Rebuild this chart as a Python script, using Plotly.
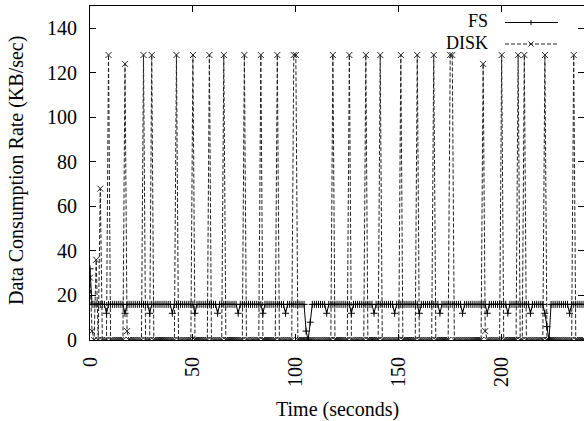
import plotly.graph_objects as go

# Time axis (seconds), one sample per second
TIME = list(range(0, 241))

# FS data consumption rate (KB/sec)
FS = [
    32, 16, 16, 16, 16, 16, 16, 16, 12, 16, 16, 16, 16, 16, 16, 16, 16, 12, 16, 16,
    16, 16, 16, 16, 16, 16, 16, 16, 16, 12, 16, 16, 16, 16, 16, 16, 16, 16, 16, 16,
    12, 16, 16, 16, 16, 16, 16, 16, 16, 16, 16, 12, 16, 16, 16, 16, 16, 16, 16, 16,
    16, 16, 12, 16, 16, 16, 16, 16, 16, 16, 16, 16, 12, 16, 16, 16, 16, 16, 16, 16,
    16, 16, 16, 16, 12, 16, 16, 16, 16, 16, 16, 16, 16, 16, 16, 12, 16, 16, 16, 16,
    16, 16, 16, 16, 16, 4, 0, 8, 16, 16, 16, 16, 16, 16, 16, 12, 16, 16, 16, 16,
    16, 16, 16, 16, 16, 16, 16, 12, 16, 16, 16, 16, 16, 16, 16, 16, 16, 16, 12, 16,
    16, 16, 16, 16, 16, 16, 16, 16, 12, 16, 16, 16, 16, 16, 16, 16, 16, 16, 16, 16,
    12, 16, 16, 16, 16, 16, 16, 16, 16, 16, 12, 16, 16, 16, 16, 16, 16, 16, 16, 16,
    16, 12, 16, 16, 16, 16, 16, 16, 16, 16, 16, 16, 16, 12, 16, 16, 16, 16, 16, 16,
    16, 16, 16, 12, 16, 16, 16, 16, 16, 16, 16, 16, 16, 16, 12, 16, 16, 16, 16, 16,
    16, 12, 6, 0, 16, 16, 16, 16, 16, 16, 16, 16, 16, 12, 16, 16, 16, 16, 16, 16,
    16,
]

# DISK data consumption rate (KB/sec)
DISK = [
    28, 4, 0, 36, 0, 68, 0, 0, 0, 128, 0, 0, 0, 0, 0, 0, 0, 124, 4, 0,
    0, 0, 0, 0, 0, 0, 128, 0, 0, 0, 128, 0, 0, 0, 0, 0, 0, 0, 0, 0,
    0, 0, 128, 0, 0, 0, 0, 0, 0, 0, 128, 0, 0, 0, 0, 0, 0, 0, 128, 0,
    0, 0, 0, 0, 0, 128, 0, 0, 0, 0, 0, 0, 0, 0, 0, 128, 0, 0, 0, 0,
    0, 0, 0, 128, 0, 0, 0, 0, 0, 0, 0, 128, 0, 0, 0, 0, 0, 0, 0, 128,
    128, 0, 0, 0, 0, 0, 0, 0, 0, 0, 0, 0, 0, 0, 0, 0, 0, 0, 128, 0,
    0, 0, 0, 0, 0, 0, 128, 0, 0, 0, 0, 0, 0, 0, 128, 0, 0, 0, 0, 0,
    0, 128, 0, 0, 0, 0, 0, 0, 0, 0, 0, 128, 0, 0, 0, 0, 0, 0, 0, 128,
    0, 0, 0, 0, 0, 0, 0, 128, 0, 0, 0, 0, 0, 0, 0, 128, 128, 0, 0, 0,
    0, 0, 0, 0, 0, 0, 0, 0, 0, 0, 0, 124, 4, 0, 0, 0, 0, 0, 0, 0,
    128, 0, 0, 0, 0, 0, 0, 0, 128, 0, 0, 128, 0, 0, 0, 0, 0, 0, 0, 0,
    0, 128, 0, 0, 0, 0, 0, 0, 0, 0, 0, 0, 0, 0, 0, 128, 0, 0, 0, 0,
    0,
]

SERIES_NAMES = ["FS", "DISK"]
X_TICKS = [0, 50, 100, 150, 200]
Y_TICKS = [0, 20, 40, 60, 80, 100, 120, 140]
X_TITLE = "Time (seconds)"
Y_TITLE = "Data Consumption Rate (KB/sec)"

FONT = "Liberation Serif, Times New Roman, serif"
W, H = 584, 421
ML, MR, MT, MB = 90, 0, 6, 81
PW, PH = W - ML - MR, H - MT - MB


def px_x(px):
    return (px - ML) / PW


def px_y(py):
    return (H - MB - py) / PH


fig = go.Figure()

fig.add_trace(go.Scatter(
    x=TIME, y=DISK, name=SERIES_NAMES[1], mode="lines+markers",
    line=dict(color="#222222", width=1, dash="4px,2px"),
    marker=dict(symbol="x-thin-open", size=6, line=dict(color="#222222", width=1)),
    showlegend=False,
))
fig.add_trace(go.Scatter(
    x=TIME, y=FS, name=SERIES_NAMES[0], mode="lines+markers",
    line=dict(color="black", width=1),
    marker=dict(symbol="cross-thin-open", size=5, line=dict(color="black", width=1)),
    showlegend=False,
))

axis_common = dict(
    showgrid=False, zeroline=False, showline=True, linecolor="black", linewidth=1,
    ticks="inside", ticklen=6, tickcolor="black", tickwidth=1, mirror="ticks",
    tickfont=dict(family=FONT, size=20, color="black"),
)

fig.update_xaxes(range=[0, 240], tickvals=X_TICKS, ticktext=[str(v) for v in X_TICKS],
                 tickangle=-90, ticklabelstandoff=8, **axis_common)
fig.update_yaxes(range=[0, 150], tickvals=Y_TICKS, ticktext=[str(v) for v in Y_TICKS],
                 ticklabelstandoff=8, **axis_common)

annotations = [
    dict(text=X_TITLE, x=0.5, y=px_y(409), xref="paper", yref="paper",
         xanchor="center", yanchor="middle", showarrow=False,
         font=dict(family=FONT, size=20, color="black")),
    dict(text=Y_TITLE, x=px_x(17), y=px_y(171), xref="paper", yref="paper",
         xanchor="center", yanchor="middle", textangle=-90, showarrow=False,
         font=dict(family=FONT, size=20, color="black")),
]

# Manual gnuplot-style legend: text on the left, sample on the right
legend_rows = [(SERIES_NAMES[0], 21.5, "black", "solid"), (SERIES_NAMES[1], 43, "#222222", "4px,2px")]
shapes = []
for name, py, col, dash in legend_rows:
    annotations.append(dict(text=name, x=px_x(489), y=px_y(py), xref="paper", yref="paper",
                            xanchor="right", yanchor="middle", showarrow=False, borderpad=0,
                            font=dict(family=FONT, size=18, color="black")))
    shapes.append(dict(type="line", xref="paper", yref="paper", x0=px_x(505), x1=px_x(558),
                       y0=px_y(py + 1), y1=px_y(py + 1), line=dict(color=col, width=1, dash=dash)))
# legend marker glyphs
cx = 531
fy, dy = 22.5, 44
shapes.append(dict(type="line", xref="paper", yref="paper", x0=px_x(cx - 2.5), x1=px_x(cx + 2.5),
                   y0=px_y(fy), y1=px_y(fy), line=dict(color="black", width=1)))
shapes.append(dict(type="line", xref="paper", yref="paper", x0=px_x(cx), x1=px_x(cx),
                   y0=px_y(fy - 2.5), y1=px_y(fy + 2.5), line=dict(color="black", width=1)))
shapes.append(dict(type="line", xref="paper", yref="paper", x0=px_x(cx - 2.5), x1=px_x(cx + 2.5),
                   y0=px_y(dy - 2.5), y1=px_y(dy + 2.5), line=dict(color="#222222", width=1)))
shapes.append(dict(type="line", xref="paper", yref="paper", x0=px_x(cx - 2.5), x1=px_x(cx + 2.5),
                   y0=px_y(dy + 2.5), y1=px_y(dy - 2.5), line=dict(color="#222222", width=1)))

fig.update_layout(
    width=W, height=H, autosize=False,
    margin=dict(l=ML, r=MR, t=MT, b=MB, pad=0),
    paper_bgcolor="white", plot_bgcolor="white",
    showlegend=False, annotations=annotations, shapes=shapes,
    font=dict(family=FONT, size=20, color="black"),
)

fig.write_html("out.html", config={"displayModeBar": False},
               post_script="document.body.style.margin='0';")
